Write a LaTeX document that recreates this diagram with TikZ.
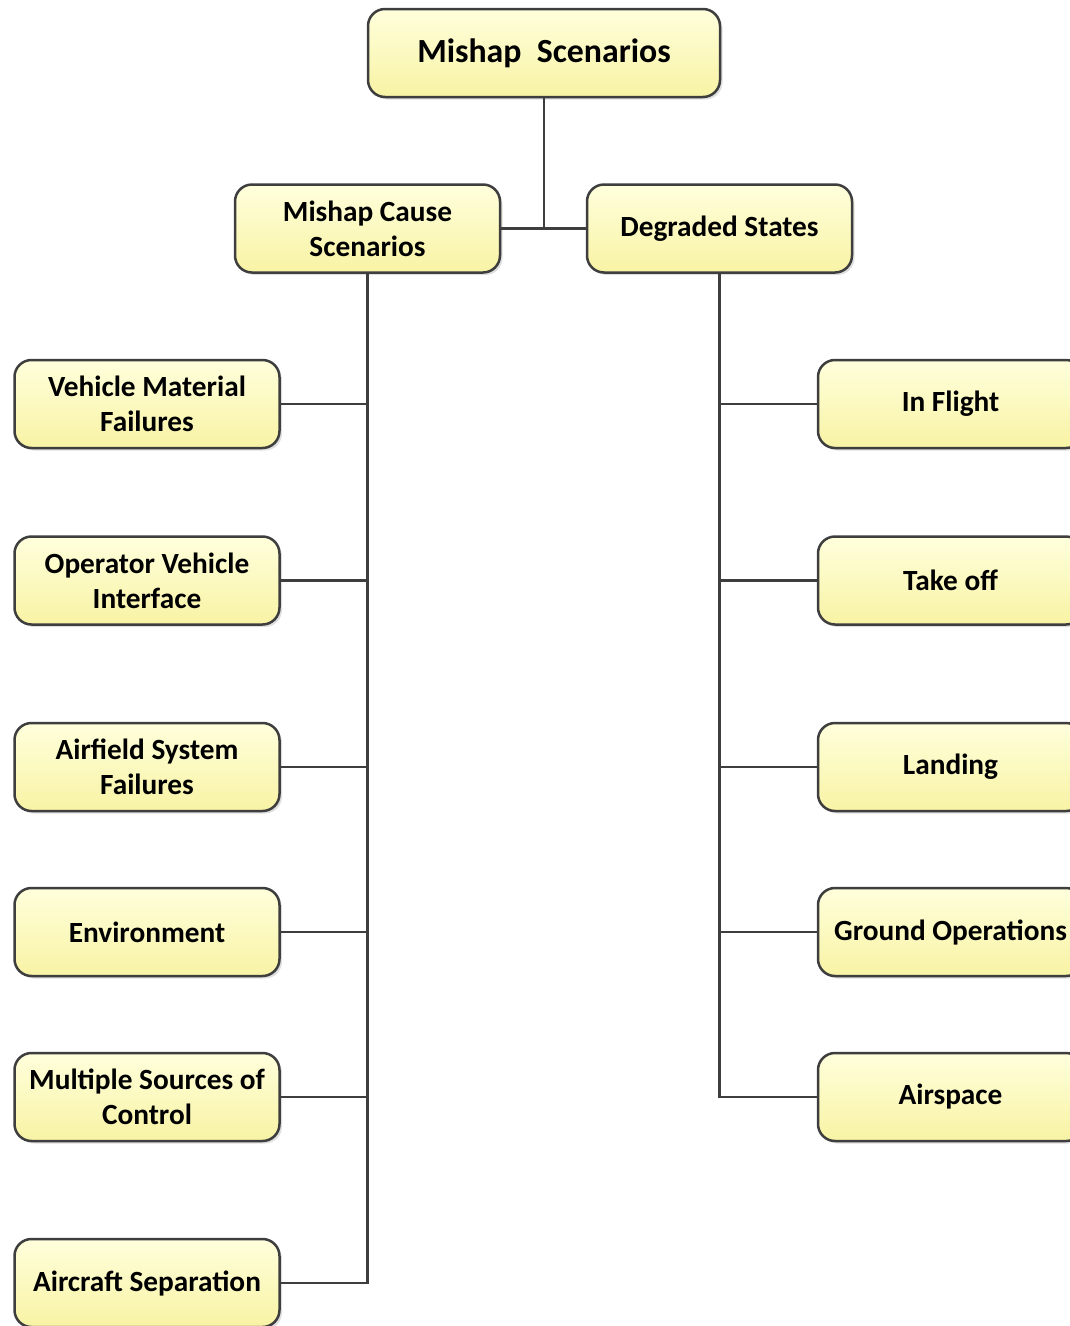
\documentclass[tikz,border=0pt]{standalone}
\usepackage{fontspec}
\setmainfont{Carlito}
\usetikzlibrary{shadows}
\definecolor{boxtop}{HTML}{FFFFDC}
\definecolor{boxbot}{HTML}{F8F3A4}
\definecolor{edgegray}{HTML}{3E3E3E}
\tikzset{
  box/.style={draw=edgegray, line width=2.5pt, rounded corners=17pt,
    top color=boxtop, bottom color=boxbot,
    minimum width=265pt, minimum height=88pt, inner sep=0pt,
    align=center, font=\fontsize{29.3}{35}\selectfont\bfseries,
    drop shadow={shadow xshift=2.5pt, shadow yshift=-2.5pt, opacity=0.25, fill=gray}},
  link/.style={draw=edgegray, line width=2.7pt, line join=miter}
}
\begin{document}
\begin{tikzpicture}[x=1pt,y=-1pt]
\useasboundingbox (0,0) rectangle (1070,1326);
\clip (0,0) rectangle (1070,1326);

% top level
\node[box, minimum width=352pt, font=\fontsize{33.8}{40}\selectfont\bfseries] (top) at (544,53) {Mishap\ \ Scenarios};

% second level
\node[box] (cause) at (367.5,228.5) {Mishap Cause\\Scenarios};
\node[box] (degr) at (719.5,228.5) {Degraded States};

% mishap causes
\node[box] (l1) at (147,404) {Vehicle Material\\Failures};
\node[box] (l2) at (147,580.5) {Operator Vehicle\\Interface};
\node[box] (l3) at (147,767) {Airfield System\\Failures};
\node[box] (l4) at (147,932) {Environment};
\node[box] (l5) at (147,1097) {Multiple Sources of\\Control};
\node[box] (l6) at (147,1283) {Aircraft Separation};

% degraded states
\node[box] (r1) at (950.5,404) {In Flight};
\node[box] (r2) at (950.5,580.5) {Take off};
\node[box] (r3) at (950.5,767) {Landing};
\node[box] (r4) at (950.5,932) {Ground Operations};
\node[box] (r5) at (950.5,1097) {Airspace};

% connectors
\draw[link] (top.south) -- (top.south |- cause.east);
\draw[link] (cause.east) -- (degr.west);

\draw[link] (cause.south) |- (l6.east);
\foreach \n in {l1,l2,l3,l4,l5}
  \draw[link] (\n.east) -- (\n.east -| cause.south);

\draw[link] (degr.south) |- (r5.west);
\foreach \n in {r1,r2,r3,r4}
  \draw[link] (\n.west) -- (\n.west -| degr.south);
\end{tikzpicture}
\end{document}
